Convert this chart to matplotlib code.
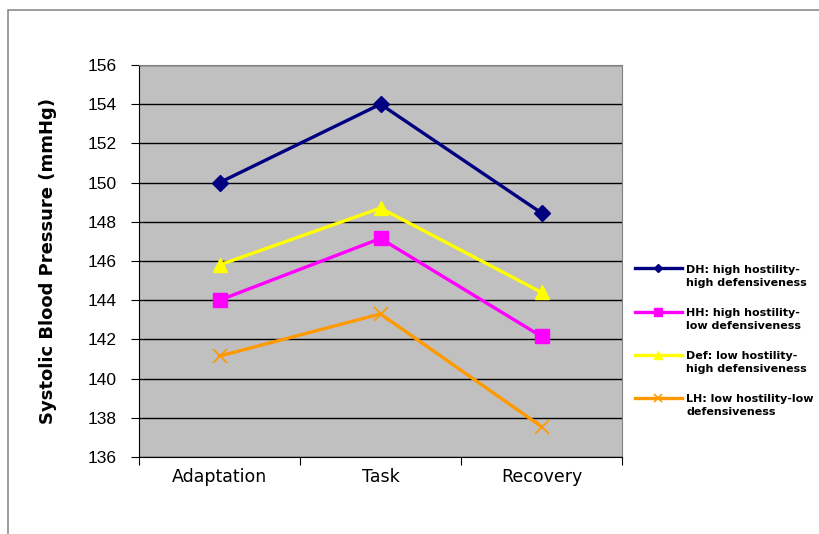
import matplotlib.pyplot as plt
from matplotlib.patches import Rectangle
import numpy as np

# -------------------------- Data --------------------------
phases = ['Adaptation', 'Task', 'Recovery']
dh_values = [150.0, 154.0, 148.45]
hh_values = [144.0, 147.15, 142.15]
def_values = [145.8, 148.7, 144.4]
lh_values = [141.15, 143.3, 137.55]

series_labels = [
    'DH: high hostility-\nhigh defensiveness',
    'HH: high hostility-\nlow defensiveness',
    'Def: low hostility-\nhigh defensiveness',
    'LH: low hostility-low\ndefensiveness',
]
y_ticks = np.arange(136, 157, 2)

# -------------------------- Plot --------------------------
fig = plt.figure(figsize=(8.19, 5.34), dpi=100)
fig.patch.set_facecolor('white')

# outer chart border (Excel style)
fig.patches.append(Rectangle((8 / 819, -0.01), 1.0, 1 - 10 / 534 + 0.01,
                             transform=fig.transFigure, fill=False,
                             edgecolor='#8c8c8c', linewidth=1.2))

ax = fig.add_axes([139 / 819, 1 - 457 / 534, 483 / 819, 392 / 534])
ax.set_facecolor('#C0C0C0')

x_pos = np.arange(len(phases))
ax.plot(x_pos, dh_values, color='#000080', linewidth=2.4, marker='D',
        markersize=8, label=series_labels[0], zorder=3)
ax.plot(x_pos, hh_values, color='#FF00FF', linewidth=2.4, marker='s',
        markersize=10, label=series_labels[1], zorder=3)
ax.plot(x_pos, def_values, color='#FFFF00', linewidth=2.4, marker='^',
        markersize=10, label=series_labels[2], zorder=3)
ax.plot(x_pos, lh_values, color='#FF9900', linewidth=2.4, marker='x',
        markersize=10, markeredgewidth=1.2, label=series_labels[3], zorder=3)

# axes
ax.set_xlim(-0.5, 2.5)
ax.set_ylim(136, 156)
ax.set_yticks(y_ticks)
ax.set_yticklabels([str(v) for v in y_ticks], fontfamily='Liberation Sans', fontsize=12.5)
ax.yaxis.grid(True, color='black', linewidth=1.0)
ax.set_axisbelow(True)

ax.set_xticks(np.arange(-0.5, 2.6, 1.0))
ax.set_xticklabels([])
ax.set_xticks(x_pos, minor=True)
ax.set_xticklabels(phases, minor=True, fontsize=12.5)
ax.tick_params(axis='x', which='minor', length=0, pad=8)
ax.tick_params(axis='x', which='major', direction='out', length=6, color='black')
ax.tick_params(axis='y', direction='out', length=6, pad=10)

for side in ['top', 'right']:
    ax.spines[side].set_color('#808080')
for side in ['left', 'bottom']:
    ax.spines[side].set_color('black')

ax.set_ylabel('Systolic Blood Pressure (mmHg)', fontsize=13, fontweight='bold', labelpad=22)

leg = fig.legend(loc='center left', bbox_to_anchor=(625 / 819, 1 - 341 / 534),
                 frameon=False, prop={'size': 8, 'weight': 'bold'},
                 handlelength=4.2, markerscale=0.55, labelspacing=1.75,
                 handletextpad=0.4)
for t in leg.get_texts():
    t.set_linespacing(1.45)
# align each legend key with the first line of its label, as Excel does
for h in leg.legend_handles:
    h.set_ydata(np.asarray(h.get_ydata()) + 5.8)

plt.savefig('out.png', dpi=100)
